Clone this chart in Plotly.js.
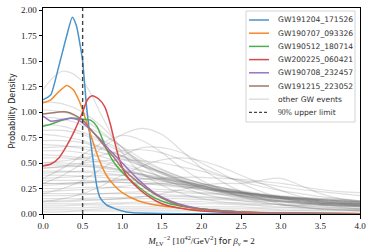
<!DOCTYPE html>
<html><head><meta charset="utf-8">
<script src="https://cdn.plot.ly/plotly-3.0.1.min.js"></script>
<style>html,body{margin:0;padding:0;background:#fff}#chart{width:373px;height:251px}</style>
</head><body><div id="chart"></div>
<script>
// Highlighted events (x, density)
const blueX = [0,0.05,0.1,0.2,0.3,0.37,0.42,0.47,0.5,0.55,0.6,0.64,0.68,0.72,0.8,0.9,1.0,1.1,1.2,1.5,2.0,3.0,4.0];
const blueY = [1.12,1.14,1.17,1.45,1.75,1.93,1.85,1.65,1.5,1.05,0.72,0.48,0.27,0.16,0.09,0.055,0.03,0.015,0.01,0.004,0.002,0.001,0];
const orangeX = [0,0.1,0.2,0.3,0.38,0.45,0.5,0.55,0.6,0.7,0.8,0.9,1.0,1.2,1.4,1.6,1.8,2.0,2.5,3.0,4.0];
const orangeY = [1.09,1.12,1.2,1.26,1.22,1.12,1.02,0.9,0.78,0.55,0.38,0.28,0.21,0.13,0.09,0.07,0.05,0.04,0.02,0.01,0.005];
const greenX = [0,0.1,0.2,0.35,0.5,0.6,0.68,0.8,0.9,1.05,1.2,1.4,1.6,1.8,2.0,2.5,3.0,4.0];
const greenY = [0.86,0.88,0.91,0.94,0.93,0.92,0.86,0.64,0.5,0.37,0.27,0.16,0.1,0.07,0.05,0.02,0.01,0.003];
const redX = [0,0.1,0.2,0.3,0.4,0.5,0.56,0.62,0.7,0.78,0.85,0.9,0.97,1.05,1.15,1.3,1.5,1.7,2.0,2.5,3.0,4.0];
const redY = [0.47,0.49,0.55,0.67,0.82,1.0,1.12,1.16,1.13,1.05,0.88,0.72,0.52,0.38,0.29,0.19,0.1,0.06,0.03,0.01,0.004,0];
const purpleX = [0,0.1,0.2,0.35,0.45,0.55,0.7,0.85,1.0,1.2,1.4,1.6,1.8,2.0,2.5,3.0,4.0];
const purpleY = [0.96,0.91,0.92,0.94,0.92,0.86,0.75,0.62,0.5,0.34,0.21,0.13,0.08,0.05,0.02,0.01,0.003];
const brownX = [0,0.1,0.2,0.3,0.4,0.5,0.6,0.7,0.8,0.9,1.0,1.2,1.4,1.6,1.8,2.0,2.5,3.0,4.0];
const brownY = [0.98,0.99,1.0,1.0,0.97,0.92,0.83,0.74,0.64,0.55,0.45,0.31,0.2,0.12,0.07,0.05,0.02,0.008,0.002];

const eventNames = ["GW191204_171526","GW190707_093326","GW190512_180714","GW200225_060421","GW190708_232457","GW191215_223052"];
const eventColors = ["#4b93c8","#f58a2b","#4daf4a","#d9494a","#9a72c4","#a0776a"];
const otherLabel = "other GW events";
const limitLabel = "90% upper limit";

// Other events on a common grid
const gridX = [0,0.25,0.5,0.75,1,1.25,1.5,1.75,2,2.25,2.5,2.75,3,3.25,3.5,3.75,4];
const otherEvents = [
 [1.22,1.40,1.30,0.95,0.6,0.4,0.28,0.2,0.15,0.12,0.1,0.08,0.07,0.06,0.05,0.05,0.04],
 [1.1,1.08,1.0,0.85,0.65,0.48,0.35,0.27,0.2,0.16,0.13,0.11,0.09,0.08,0.07,0.06,0.05],
 [1.02,1.0,0.93,0.8,0.65,0.5,0.4,0.32,0.26,0.21,0.17,0.14,0.12,0.1,0.09,0.08,0.07],
 [0.95,0.93,0.87,0.78,0.66,0.54,0.44,0.36,0.3,0.25,0.21,0.18,0.15,0.13,0.11,0.1,0.09],
 [0.88,0.86,0.8,0.72,0.62,0.52,0.43,0.36,0.3,0.26,0.22,0.19,0.16,0.14,0.12,0.11,0.1],
 [0.82,0.82,0.78,0.7,0.6,0.5,0.41,0.33,0.27,0.22,0.18,0.15,0.13,0.11,0.1,0.09,0.08],
 [0.78,0.76,0.72,0.65,0.57,0.48,0.4,0.33,0.28,0.23,0.2,0.17,0.15,0.13,0.11,0.1,0.09],
 [0.3,0.38,0.5,0.65,0.78,0.84,0.78,0.62,0.45,0.32,0.22,0.15,0.1,0.07,0.05,0.04,0.03],
 [0.2,0.25,0.33,0.45,0.57,0.65,0.65,0.6,0.5,0.4,0.3,0.22,0.16,0.12,0.09,0.07,0.05],
 [0.12,0.15,0.2,0.28,0.38,0.47,0.53,0.55,0.52,0.46,0.38,0.3,0.23,0.17,0.13,0.1,0.08],
 [0.35,0.45,0.58,0.7,0.77,0.72,0.6,0.45,0.33,0.24,0.17,0.12,0.09,0.07,0.05,0.04,0.03],
 [0.12,0.12,0.13,0.14,0.15,0.17,0.2,0.24,0.28,0.3,0.3,0.33,0.35,0.28,0.2,0.15,0.12],
 [0.3,0.3,0.31,0.32,0.33,0.34,0.35,0.36,0.36,0.35,0.34,0.32,0.3,0.27,0.24,0.22,0.21],
 [0.5,0.52,0.55,0.58,0.62,0.63,0.6,0.53,0.45,0.38,0.32,0.27,0.23,0.2,0.17,0.15,0.13],
 [0.45,0.47,0.5,0.52,0.53,0.52,0.5,0.46,0.42,0.37,0.33,0.3,0.27,0.24,0.22,0.2,0.18],
 [0.62,0.62,0.6,0.56,0.5,0.43,0.36,0.3,0.25,0.21,0.18,0.15,0.13,0.11,0.1,0.09,0.08],
 [0.58,0.57,0.55,0.52,0.47,0.42,0.37,0.32,0.28,0.24,0.21,0.18,0.16,0.14,0.12,0.11,0.1],
 [0.55,0.55,0.53,0.5,0.45,0.39,0.33,0.28,0.23,0.19,0.16,0.14,0.12,0.1,0.09,0.08,0.07],
 [0.5,0.5,0.49,0.47,0.43,0.38,0.33,0.29,0.25,0.22,0.19,0.17,0.15,0.13,0.12,0.11,0.1],
 [0.48,0.48,0.47,0.45,0.42,0.38,0.34,0.3,0.26,0.23,0.2,0.18,0.16,0.14,0.13,0.12,0.11],
 [0.45,0.46,0.47,0.46,0.43,0.39,0.35,0.31,0.27,0.24,0.21,0.19,0.17,0.15,0.14,0.13,0.12],
 [0.42,0.42,0.41,0.4,0.38,0.35,0.32,0.29,0.26,0.23,0.21,0.19,0.17,0.15,0.14,0.13,0.12],
 [0.4,0.41,0.42,0.42,0.41,0.39,0.36,0.32,0.28,0.25,0.22,0.19,0.17,0.15,0.13,0.12,0.11],
 [0.38,0.38,0.37,0.36,0.34,0.32,0.3,0.27,0.25,0.23,0.21,0.19,0.17,0.16,0.15,0.14,0.13],
 [0.35,0.36,0.37,0.38,0.38,0.37,0.35,0.32,0.29,0.26,0.23,0.2,0.18,0.16,0.14,0.13,0.12],
 [0.33,0.33,0.33,0.32,0.31,0.3,0.28,0.26,0.24,0.22,0.2,0.18,0.16,0.15,0.14,0.13,0.12],
 [0.3,0.3,0.31,0.31,0.31,0.3,0.29,0.27,0.25,0.23,0.21,0.19,0.17,0.16,0.15,0.14,0.13],
 [0.28,0.29,0.3,0.32,0.34,0.35,0.34,0.31,0.27,0.23,0.2,0.17,0.15,0.13,0.11,0.1,0.09],
 [0.25,0.25,0.26,0.26,0.26,0.25,0.24,0.23,0.21,0.2,0.18,0.17,0.16,0.15,0.14,0.13,0.12],
 [0.22,0.23,0.24,0.25,0.27,0.29,0.3,0.29,0.27,0.24,0.21,0.18,0.16,0.14,0.12,0.11,0.1],
 [0.2,0.2,0.2,0.2,0.2,0.2,0.19,0.18,0.17,0.16,0.15,0.14,0.13,0.12,0.11,0.11,0.1],
 [0.18,0.18,0.19,0.2,0.21,0.22,0.22,0.21,0.2,0.19,0.17,0.16,0.15,0.14,0.13,0.12,0.11],
 [0.15,0.15,0.15,0.16,0.16,0.17,0.17,0.17,0.16,0.15,0.14,0.13,0.12,0.12,0.11,0.1,0.1],
 [0.13,0.13,0.14,0.14,0.15,0.15,0.15,0.15,0.14,0.14,0.13,0.12,0.12,0.11,0.1,0.1,0.09],
 [0.1,0.1,0.1,0.11,0.11,0.12,0.12,0.12,0.12,0.11,0.11,0.1,0.1,0.09,0.09,0.08,0.08],
 [0.08,0.08,0.09,0.09,0.1,0.1,0.1,0.1,0.1,0.1,0.09,0.09,0.09,0.08,0.08,0.08,0.07],
 [0.06,0.06,0.06,0.07,0.07,0.07,0.07,0.07,0.07,0.07,0.07,0.06,0.06,0.06,0.06,0.06,0.05],
 [0.04,0.04,0.04,0.05,0.05,0.05,0.05,0.05,0.05,0.05,0.05,0.05,0.04,0.04,0.04,0.04,0.04],
 [0.02,0.02,0.03,0.03,0.03,0.03,0.03,0.03,0.03,0.03,0.03,0.03,0.03,0.03,0.03,0.03,0.03],
 [0.72,0.72,0.7,0.64,0.56,0.47,0.39,0.32,0.26,0.22,0.18,0.15,0.13,0.11,0.1,0.09,0.08],
 [0.68,0.67,0.64,0.6,0.54,0.47,0.41,0.35,0.3,0.26,0.22,0.19,0.17,0.15,0.13,0.12,0.11],
 [0.65,0.66,0.66,0.63,0.57,0.49,0.41,0.34,0.28,0.23,0.19,0.16,0.14,0.12,0.1,0.09,0.08]
];
const upperLimit = 0.5;

const grayColor = 'rgba(110,110,110,0.22)';
const limitColor = '#444';
const traces = [];
otherEvents.forEach((ys) => {
  traces.push({x: gridX, y: ys, type: 'scatter', mode: 'lines',
    line: {color: grayColor, width: 1.2, shape: 'spline', smoothing: 1.0},
    name: otherLabel, showlegend: false, hoverinfo: 'skip'});
});
const evX = [blueX, orangeX, greenX, redX, purpleX, brownX];
const evY = [blueY, orangeY, greenY, redY, purpleY, brownY];
eventNames.forEach((n, i) => {
  traces.push({x: evX[i], y: evY[i], type: 'scatter', mode: 'lines',
    line: {color: eventColors[i], width: 1.5, shape: 'spline', smoothing: 0.6},
    name: n, showlegend: false});
});
traces.push({x: [upperLimit, upperLimit], y: [0, 2.02], type: 'scatter', mode: 'lines',
  line: {color: limitColor, width: 1.4, dash: '4px,3px'}, name: limitLabel, showlegend: false});

// Compact legend (matplotlib style) drawn in paper coordinates
const W = 373, H = 251, M = {l: 43, r: 13, t: 8, b: 37};
const pw = W - M.l - M.r, ph = H - M.t - M.b;
const px = v => (v - M.l) / pw;
const py = v => 1 - (v - M.t) / ph;
const shapes = [{type: 'rect', xref: 'paper', yref: 'paper', x0: px(246), x1: px(355), y0: py(122), y1: py(11),
  fillcolor: 'rgba(255,255,255,0.85)', line: {color: '#d4d4d4', width: 1}, layer: 'above'}];
const annotations = [];
const legItems = eventNames.map((n, i) => ({label: n, color: eventColors[i], dash: 'solid', width: 1.5}));
legItems.push({label: otherLabel, color: 'rgba(200,200,200,0.6)', dash: 'solid', width: 1.5});
legItems.push({label: '<span style="font-family:Liberation Serif">90%</span> upper limit', color: limitColor, dash: '3px,2px', width: 1.4});
legItems.forEach((it, i) => {
  const yc = 20 + i * 13.2;
  shapes.push({type: 'line', xref: 'paper', yref: 'paper', x0: px(249), x1: px(269), y0: py(yc), y1: py(yc),
    line: {color: it.color, width: it.width, dash: it.dash}, layer: 'above'});
  annotations.push({xref: 'paper', yref: 'paper', x: px(276), y: py(yc), xanchor: 'left', yanchor: 'middle',
    text: it.label, showarrow: false, font: {family: 'DejaVu Sans, sans-serif', size: 7.6, color: '#333'}});
});

const serif = 'Liberation Serif, DejaVu Serif, serif';
const layout = {
  width: W, height: H,
  margin: M,
  paper_bgcolor: '#fff', plot_bgcolor: '#fff',
  showlegend: false,
  shapes: shapes, annotations: annotations,
  xaxis: {range: [0, 4], tickvals: [0,0.5,1,1.5,2,2.5,3,3.5,4], ticktext: ['0.0','0.5','1.0','1.5','2.0','2.5','3.0','3.5','4.0'],
    ticks: 'outside', ticklen: 3.5, tickwidth: 1, tickcolor: '#000', showgrid: false, zeroline: false,
    showline: true, linecolor: '#000', linewidth: 1, mirror: true,
    tickfont: {family: serif, size: 9, color: '#222'},
    title: {text: '<i>M</i><sub>LV</sub><sup>−2</sup> [10<sup>42</sup>/GeV<sup>2</sup>] <span style="font-family:DejaVu Sans">for</span> <i>β</i><sub>ν</sub> = 2',
      font: {family: serif, size: 9, color: '#222'}, standoff: 7}},
  yaxis: {range: [0, 2.02], tickvals: [0,0.25,0.5,0.75,1,1.25,1.5,1.75,2], ticktext: ['0.00','0.25','0.50','0.75','1.00','1.25','1.50','1.75','2.00'],
    ticks: 'outside', ticklen: 3.5, tickwidth: 1, tickcolor: '#000', showgrid: false, zeroline: false,
    showline: true, linecolor: '#000', linewidth: 1, mirror: true,
    tickfont: {family: serif, size: 9, color: '#222'},
    title: {text: 'Probability Density', font: {family: 'DejaVu Sans, sans-serif', size: 8, color: '#222'}, standoff: 4}}
};
Plotly.newPlot('chart', traces, layout, {displayModeBar: false, staticPlot: true});
</script></body></html>
